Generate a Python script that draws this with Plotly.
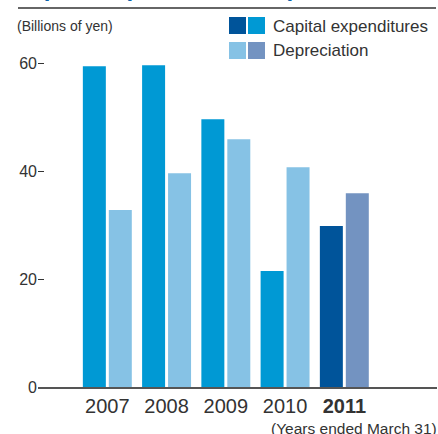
import plotly.graph_objects as go

# Fiscal years (ended March 31)
years = ["2007", "2008", "2009", "2010", "2011"]
year_labels = ["2007", "2008", "2009", "2010", "<b>2011</b>"]

# Billions of yen
capex = [59.4, 59.6, 49.6, 21.5, 29.8]
depreciation = [32.8, 39.6, 45.9, 40.7, 35.9]

capex_colors = ["#0099d4"] * 4 + ["#00549a"]
dep_colors = ["#86c2e5"] * 4 + ["#7393c1"]

W, H = 438, 434
L, R, T, B = 18, 1, 36, 47
AX = 38  # left edge of the bar area in pixels
pw, ph = W - L - R, H - T - B

def px(x):
    return (x - L) / pw

def py(y):
    return (H - B - y) / ph

xpos = list(range(len(years)))

fig = go.Figure()
fig.add_trace(go.Bar(x=xpos, y=capex, marker=dict(color=capex_colors, line=dict(width=0)),
                     width=0.388, offset=-0.413, name="Capital expenditures", hoverinfo="y"))
fig.add_trace(go.Bar(x=xpos, y=depreciation, marker=dict(color=dep_colors, line=dict(width=0)),
                     width=0.388, offset=0.025, name="Depreciation", hoverinfo="y"))

font = "Liberation Sans, Arial, sans-serif"
text_color = "#333333"

shapes = [
    # rule under the heading
    dict(type="line", xref="paper", yref="paper", x0=px(18), x1=px(436), y0=py(8), y1=py(8),
         line=dict(color="#333333", width=1.5)),
    # legend swatches
    dict(type="rect", xref="paper", yref="paper", x0=px(229), x1=px(246), y0=py(34), y1=py(17),
         fillcolor="#00549a", line=dict(width=0)),
    dict(type="rect", xref="paper", yref="paper", x0=px(248), x1=px(265), y0=py(34), y1=py(17),
         fillcolor="#0099d4", line=dict(width=0)),
    dict(type="rect", xref="paper", yref="paper", x0=px(229), x1=px(246), y0=py(59), y1=py(42),
         fillcolor="#86c2e5", line=dict(width=0)),
    dict(type="rect", xref="paper", yref="paper", x0=px(248), x1=px(265), y0=py(59), y1=py(42),
         fillcolor="#7393c1", line=dict(width=0)),
]

annotations = [
    dict(text="Capital expenditures/Depreciation", xref="paper", yref="paper",
         x=px(11), y=py(3), xanchor="left", yanchor="bottom", showarrow=False,
         font=dict(family=font, size=24, color="#0b63ab", weight="bold")),
    dict(text="(Billions of yen)", xref="paper", yref="paper", x=px(15), y=py(26),
         xanchor="left", yanchor="middle", showarrow=False,
         font=dict(family=font, size=14, color=text_color)),
    dict(text="Capital expenditures", xref="paper", yref="paper", x=px(271), y=py(26),
         xanchor="left", yanchor="middle", showarrow=False,
         font=dict(family=font, size=17, color=text_color)),
    dict(text="Depreciation", xref="paper", yref="paper", x=px(271), y=py(51),
         xanchor="left", yanchor="middle", showarrow=False,
         font=dict(family=font, size=17, color=text_color)),
    dict(text="(Years ended March 31)", xref="paper", yref="paper", x=px(439), y=py(428),
         xanchor="right", yanchor="middle", showarrow=False,
         font=dict(family=font, size=15.5, color=text_color)),
]

fig.update_layout(
    width=W, height=H,
    margin=dict(l=L, r=R, t=T, b=B, pad=0),
    paper_bgcolor="white", plot_bgcolor="white",
    showlegend=False,
    barmode="overlay",
    font=dict(family=font, color=text_color),
    shapes=shapes,
    annotations=annotations,
    xaxis=dict(
        domain=[px(AX), 1],
        range=[-1.17, 5.564], tickmode="array", tickvals=xpos, ticktext=year_labels,
        showgrid=False, zeroline=False, showline=True, linecolor="#555555", linewidth=1.5,
        ticks="", tickfont=dict(size=20, color=text_color), fixedrange=True,
    ),
    yaxis=dict(
        range=[0, 65], tickvals=[0, 20, 40, 60], showgrid=False, zeroline=False,
        showline=False, ticks="inside", ticklen=6, tickwidth=1, tickcolor="#333333",
        tickfont=dict(size=16, color=text_color), fixedrange=True,
    ),
)

fig.write_html("out.html")
